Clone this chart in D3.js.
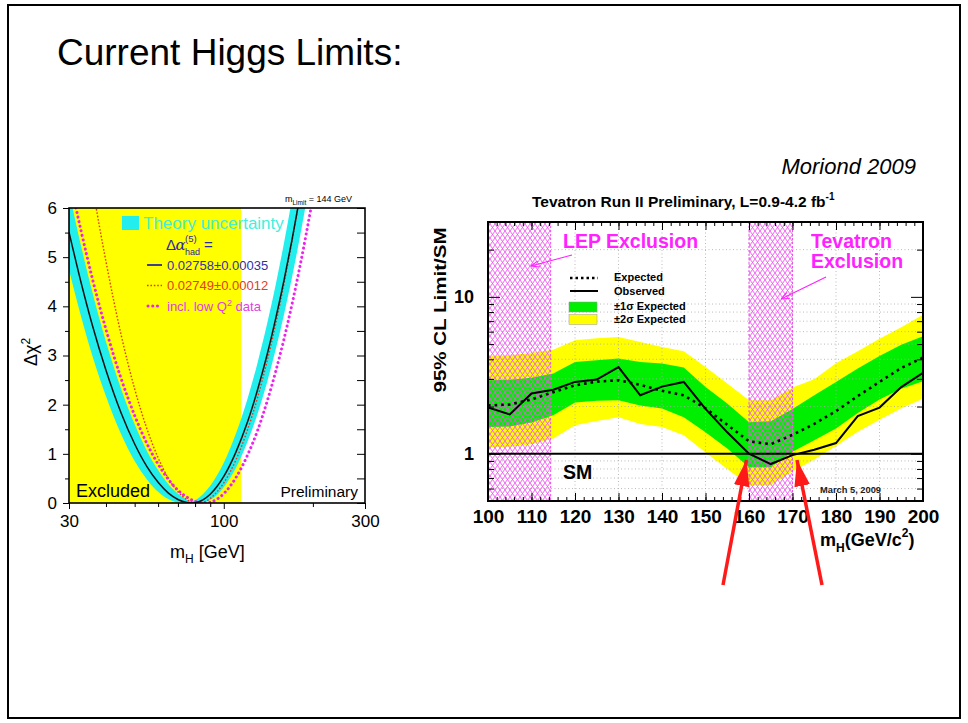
<!DOCTYPE html>
<html>
<head>
<meta charset="utf-8">
<script src="https://cdn.jsdelivr.net/npm/d3@7/dist/d3.min.js"></script>
<style>
  body { margin: 0; background: #fff; }
  svg text { font-family: "Liberation Sans", Arial, Helvetica, sans-serif; }
</style>
</head>
<body>
<div id="vis"></div>
<script>
// left plot: blueband, delta chi2 vs m_H (GeV)
const bandMass    = [30, 33, 36, 40, 45, 50, 55, 60, 65, 70, 75, 78, 80, 85, 90, 95, 100, 110, 120, 130, 140, 150, 160, 170, 180, 190, 200];
const bandCentral = [5.51, 4.47, 3.61, 2.70, 1.83, 1.20, 0.74, 0.42, 0.20, 0.072, 0.010, 0, 0.005, 0.064, 0.178, 0.34, 0.54, 1.04, 1.63, 2.30, 3.01, 3.77, 4.55, 5.35, 6.17, 6.99, 7.82];
const bandLow     = [4.74, 3.78, 2.99, 2.17, 1.40, 0.855, 0.48, 0.23, 0.079, 0.010, 0, 0, 0, 0.0065, 0.063, 0.17, 0.32, 0.72, 1.23, 1.81, 2.45, 3.14, 3.85, 4.59, 5.35, 6.12, 6.90];
const bandHigh    = [6.34, 5.21, 4.28, 3.28, 2.32, 1.60, 1.06, 0.67, 0.38, 0.19, 0.072, 0.03, 0.059, 0.18, 0.35, 0.57, 0.82, 1.42, 2.10, 2.85, 3.64, 4.46, 5.31, 6.18, 7.05, 7.93, 8.81];

const alphaMass = [36, 38, 40, 45, 50, 55, 60, 65, 70, 75, 80, 85, 90, 95, 100, 110, 120, 130, 140, 150, 160, 170, 180];
const alphaChi2 = [6.46, 5.63, 4.91, 3.42, 2.32, 1.51, 0.92, 0.50, 0.23, 0.070, 0.004, 0.016, 0.093, 0.23, 0.41, 0.88, 1.47, 2.14, 2.88, 3.66, 4.48, 5.32, 6.19];

const lowQ2Mass = [30, 33, 36, 40, 45, 50, 55, 60, 65, 70, 75, 80, 86, 90, 95, 100, 110, 120, 130, 140, 150, 160, 170, 180, 190, 200];
const lowQ2Chi2 = [6.66, 5.52, 4.56, 3.53, 2.53, 1.78, 1.21, 0.79, 0.48, 0.26, 0.12, 0.034, 0, 0.015, 0.081, 0.19, 0.52, 0.96, 1.47, 2.06, 2.69, 3.35, 4.04, 4.75, 5.48, 6.21];

const lepLimit = 114.4;
const chiTicks = [0, 1, 2, 3, 4, 5, 6];
const chiHalfTicks = [0.5, 1.5, 2.5, 3.5, 4.5, 5.5];
const chiMassTicks = [30, 100, 300];
const chiMassMinor = [40, 50, 60, 70, 80, 90, 200];

// right plot: Tevatron 95% CL limit / SM
const tevMass  = [100, 105, 110, 115, 120, 125, 130, 135, 140, 145, 150, 155, 160, 165, 170, 175, 180, 185, 190, 195, 200];
const observed = [1.97, 1.78, 2.42, 2.56, 2.87, 2.97, 3.57, 2.36, 2.68, 2.87, 1.93, 1.37, 1.00, 0.86, 0.98, 1.06, 1.17, 1.74, 1.97, 2.66, 3.28];
const expected = [2.03, 2.06, 2.22, 2.47, 2.73, 2.88, 2.94, 2.75, 2.52, 2.36, 1.95, 1.53, 1.20, 1.15, 1.32, 1.55, 1.87, 2.33, 2.87, 3.52, 4.10];
const minus1   = [1.48, 1.49, 1.58, 1.76, 2.12, 2.18, 2.19, 2.03, 1.94, 1.71, 1.37, 1.08, 0.82, 0.82, 1.03, 1.22, 1.45, 1.82, 2.22, 2.60, 2.90];
const plus1    = [2.94, 2.96, 3.05, 3.25, 3.85, 3.95, 4.04, 3.85, 3.76, 3.55, 2.66, 2.09, 1.59, 1.61, 1.93, 2.36, 2.87, 3.50, 4.20, 4.95, 5.60];
const minus2   = [1.10, 1.11, 1.15, 1.25, 1.52, 1.62, 1.71, 1.55, 1.48, 1.31, 1.02, 0.80, 0.63, 0.63, 0.77, 0.92, 1.12, 1.38, 1.65, 1.95, 2.24];
const plus2    = [4.20, 4.25, 4.40, 4.60, 5.29, 5.45, 5.55, 5.15, 4.80, 4.50, 3.57, 2.80, 2.19, 2.19, 2.64, 2.98, 3.77, 4.50, 5.40, 6.40, 7.70];

const lepRange = [100, 114.4];
const tevRange = [160, 170];
const tevXTicks = [100, 110, 120, 130, 140, 150, 160, 170, 180, 190, 200];
const tevXMinor = d3.range(100, 201, 2);
const tevYMajor = [1, 10];
const tevYMinor = [0.6, 0.7, 0.8, 0.9, 2, 3, 4, 5, 6, 7, 8, 9, 20, 30];
const tevGridY  = [0.6, 0.7, 0.8, 0.9, 2, 3, 4, 5, 6, 7, 8, 9, 20];
const tevGridX  = [110, 120, 130, 140, 150, 160, 170, 180, 190];

const FONT = '"Liberation Sans", Arial, sans-serif';

const svg = d3.select('#vis').append('svg')
  .attr('width', 968)
  .attr('height', 723);

const defs = svg.append('defs');

// slide frame + title
svg.append('rect').attr('x', 8).attr('y', 5).attr('width', 952).attr('height', 713)
  .attr('fill', 'none').attr('stroke', '#000').attr('stroke-width', 2);

svg.append('text').attr('x', 57).attr('y', 65)
  .attr('font-size', 37).text('Current Higgs Limits:');

svg.append('text').attr('x', 916).attr('y', 174).attr('text-anchor', 'end')
  .attr('font-size', 22).attr('font-style', 'italic').text('Moriond 2009');

// ================= left plot =================
const xL = d3.scaleLog().domain([30, 300]).range([69, 365]);
const yL = d3.scaleLinear().domain([0, 6]).range([503, 208]);

defs.append('clipPath').attr('id', 'clipL').append('rect')
  .attr('x', 69).attr('y', 208).attr('width', 296).attr('height', 295);

const left = svg.append('g');
const plotL = left.append('g').attr('clip-path', 'url(#clipL)');

plotL.append('rect')
  .attr('x', xL(30)).attr('y', yL(6))
  .attr('width', xL(lepLimit) - xL(30)).attr('height', yL(0) - yL(6))
  .attr('fill', '#ffff00');

const bandRows = bandMass.map((m, i) => ({m: m, c: bandCentral[i], lo: bandLow[i], hi: bandHigh[i]}));

plotL.append('path')
  .datum(bandRows)
  .attr('fill', '#22eeee')
  .attr('d', d3.area().curve(d3.curveMonotoneX)
    .x(d => xL(d.m)).y0(d => yL(d.lo)).y1(d => yL(d.hi)));

const lineL = d3.line().curve(d3.curveMonotoneX).x(d => xL(d[0])).y(d => yL(d[1]));

plotL.append('path')
  .datum(d3.zip(alphaMass, alphaChi2))
  .attr('fill', 'none').attr('stroke', '#e8381c').attr('stroke-width', 1.4)
  .attr('stroke-dasharray', '1.6,1.8')
  .attr('d', lineL);

plotL.append('path')
  .datum(d3.zip(lowQ2Mass, lowQ2Chi2))
  .attr('fill', 'none').attr('stroke', '#ee22ee').attr('stroke-width', 3)
  .attr('stroke-linecap', 'round').attr('stroke-dasharray', '0.1,4.6')
  .attr('d', lineL);

plotL.append('path')
  .datum(d3.zip(bandMass, bandCentral))
  .attr('fill', 'none').attr('stroke', '#111').attr('stroke-width', 1.5)
  .attr('d', lineL);

// frame
left.append('rect').attr('x', 69).attr('y', 208).attr('width', 296).attr('height', 295)
  .attr('fill', 'none').attr('stroke', '#000').attr('stroke-width', 1.6);

// axes
function styleAxis(g, size, weight) {
  g.select('.domain').remove();
  g.selectAll('text').attr('font-family', FONT).attr('font-size', size)
    .attr('font-weight', weight || 'normal').attr('fill', '#000');
  g.selectAll('line').attr('stroke', '#000').attr('stroke-width', 1);
}

left.append('g').attr('transform', 'translate(69,0)')
  .call(d3.axisLeft(yL).tickValues(chiTicks).tickSize(6).tickPadding(6).tickFormat(d3.format('d')))
  .call(g => styleAxis(g, 17));
left.append('g').attr('transform', 'translate(69,0)')
  .call(d3.axisLeft(yL).tickValues(chiHalfTicks).tickSize(4).tickFormat(''))
  .call(g => styleAxis(g, 17));
left.append('g').attr('transform', 'translate(365,0)')
  .call(d3.axisRight(yL).tickValues(chiTicks.concat(chiHalfTicks)).tickSize(-8).tickFormat(''))
  .call(g => styleAxis(g, 17));
left.append('g').attr('transform', 'translate(0,503)')
  .call(d3.axisBottom(xL).tickValues(chiMassTicks).tickSize(6).tickPadding(6).tickFormat(d3.format('d')))
  .call(g => styleAxis(g, 17));
left.append('g').attr('transform', 'translate(0,503)')
  .call(d3.axisBottom(xL).tickValues(chiMassMinor).tickSize(4).tickFormat(''))
  .call(g => styleAxis(g, 17));

// axis titles
const yTitleL = left.append('text').attr('transform', 'translate(37,352) rotate(-90)')
  .attr('text-anchor', 'middle').attr('font-size', 18);
yTitleL.append('tspan').text('Δχ');
yTitleL.append('tspan').attr('font-size', 12).attr('dy', -7).text('2');

const xTitleL = left.append('text').attr('x', 170).attr('y', 558).attr('font-size', 18);
xTitleL.append('tspan').text('m');
xTitleL.append('tspan').attr('font-size', 12).attr('dy', 5).text('H');
xTitleL.append('tspan').attr('dy', -5).text(' [GeV]');

left.append('text').attr('x', 76).attr('y', 497).attr('font-size', 18).text('Excluded');
left.append('text').attr('x', 358).attr('y', 497).attr('text-anchor', 'end')
  .attr('font-size', 15.5).text('Preliminary');

const mlim = left.append('text').attr('x', 285).attr('y', 202).attr('font-size', 9);
mlim.append('tspan').text('m');
mlim.append('tspan').attr('font-size', 6.5).attr('dy', 3).text('Limit');
mlim.append('tspan').attr('dy', -3).text(' = 144 GeV');

// legend
const blue = '#2a2aa0';
left.append('rect').attr('x', 122).attr('y', 216).attr('width', 17).attr('height', 14)
  .attr('fill', '#22eeee');
left.append('text').attr('x', 143).attr('y', 229).attr('font-size', 17)
  .attr('fill', '#44eedd').text('Theory uncertainty');

left.append('text').attr('x', 166).attr('y', 250).attr('font-size', 15).attr('fill', blue)
  .text('Δ');
left.append('text').attr('x', 175.5).attr('y', 250).attr('font-size', 15).attr('fill', blue)
  .attr('font-style', 'italic').style('font-family', '"DejaVu Serif", serif').text('α');
left.append('text').attr('x', 185).attr('y', 241.5).attr('font-size', 9.5).attr('fill', blue)
  .text('(5)');
left.append('text').attr('x', 185).attr('y', 254.5).attr('font-size', 9).attr('fill', blue)
  .text('had');
left.append('text').attr('x', 204).attr('y', 250).attr('font-size', 15).attr('fill', blue)
  .text('=');

left.append('line').attr('x1', 147).attr('x2', 162).attr('y1', 265).attr('y2', 265)
  .attr('stroke', blue).attr('stroke-width', 1.8);
left.append('text').attr('x', 167).attr('y', 269.5).attr('font-size', 13)
  .attr('fill', '#3030a8').text('0.02758±0.00035');

left.append('line').attr('x1', 147).attr('x2', 162).attr('y1', 285.5).attr('y2', 285.5)
  .attr('stroke', '#e8381c').attr('stroke-width', 1.4).attr('stroke-dasharray', '1.6,1.8');
left.append('text').attr('x', 167).attr('y', 290).attr('font-size', 13)
  .attr('fill', '#e0401e').text('0.02749±0.00012');

left.append('line').attr('x1', 148).attr('x2', 162).attr('y1', 306).attr('y2', 306)
  .attr('stroke', '#ee22ee').attr('stroke-width', 3).attr('stroke-linecap', 'round')
  .attr('stroke-dasharray', '0.1,4.6');
const q2 = left.append('text').attr('x', 167).attr('y', 311).attr('font-size', 13).attr('fill', '#e040e0');
q2.append('tspan').text('incl. low Q');
q2.append('tspan').attr('font-size', 9).attr('dy', -5).text('2');
q2.append('tspan').attr('dy', 5).text(' data');

// ================= right plot =================
const xR = d3.scaleLinear().domain([100, 200]).range([488, 923]);
const yR = d3.scaleLog().domain([0.5, 30]).range([501, 222]);

defs.append('clipPath').attr('id', 'clipR').append('rect')
  .attr('x', 488).attr('y', 222).attr('width', 435).attr('height', 279);

const hatch = defs.append('pattern').attr('id', 'hatch')
  .attr('patternUnits', 'userSpaceOnUse').attr('width', 5).attr('height', 7);
hatch.append('path').attr('d', 'M0,0L5,7M5,0L0,7')
  .attr('stroke', '#f050f0').attr('stroke-width', 0.9).attr('fill', 'none');

const right = svg.append('g');
const plotR = right.append('g').attr('clip-path', 'url(#clipR)');

const tevRows = tevMass.map((m, i) => ({
  m: m, obs: observed[i], exp: expected[i],
  lo1: minus1[i], hi1: plus1[i], lo2: minus2[i], hi2: plus2[i]
}));

plotR.append('path').datum(tevRows).attr('fill', '#ffff00')
  .attr('d', d3.area().x(d => xR(d.m)).y0(d => yR(d.lo2)).y1(d => yR(d.hi2)));
plotR.append('path').datum(tevRows).attr('fill', '#00ee00')
  .attr('d', d3.area().x(d => xR(d.m)).y0(d => yR(d.lo1)).y1(d => yR(d.hi1)));

// dotted grid
plotR.selectAll('line.gy').data(tevGridY).enter().append('line').attr('class', 'gy')
  .attr('x1', 488).attr('x2', 923).attr('y1', d => yR(d)).attr('y2', d => yR(d))
  .attr('stroke', '#aaa').attr('stroke-width', 0.8).attr('stroke-dasharray', '1,2.5');
plotR.selectAll('line.gx').data(tevGridX).enter().append('line').attr('class', 'gx')
  .attr('x1', d => xR(d)).attr('x2', d => xR(d)).attr('y1', 222).attr('y2', 501)
  .attr('stroke', '#aaa').attr('stroke-width', 0.8).attr('stroke-dasharray', '1,2.5');

// excluded regions (hatched)
[lepRange, tevRange].forEach(r => {
  plotR.append('rect').attr('x', xR(r[0])).attr('y', 222)
    .attr('width', xR(r[1]) - xR(r[0])).attr('height', 279)
    .attr('fill', 'url(#hatch)');
  r.forEach(v => {
    if (v > 100) {
      plotR.append('line').attr('x1', xR(v)).attr('x2', xR(v)).attr('y1', 222).attr('y2', 501)
        .attr('stroke', '#f050f0').attr('stroke-width', 1).attr('stroke-dasharray', '2,2');
    }
  });
});

const lineR = d3.line().x(d => xR(d[0])).y(d => yR(d[1]));

plotR.append('path').datum(d3.zip(tevMass, expected))
  .attr('fill', 'none').attr('stroke', '#000').attr('stroke-width', 2.6)
  .attr('stroke-dasharray', '2.6,4').attr('d', lineR);
plotR.append('path').datum(d3.zip(tevMass, observed))
  .attr('fill', 'none').attr('stroke', '#000').attr('stroke-width', 2)
  .attr('d', lineR);

// SM line
plotR.append('line').attr('x1', 488).attr('x2', 923).attr('y1', yR(1)).attr('y2', yR(1))
  .attr('stroke', '#000').attr('stroke-width', 2);

right.append('rect').attr('x', 488).attr('y', 222).attr('width', 435).attr('height', 279)
  .attr('fill', 'none').attr('stroke', '#000').attr('stroke-width', 2);

// ticks
right.append('g').attr('transform', 'translate(0,501)')
  .call(d3.axisBottom(xR).tickValues(tevXTicks).tickSize(-8).tickPadding(8.5).tickFormat(d3.format('d')))
  .call(g => styleAxis(g, 19, 'bold'));
right.append('g').attr('transform', 'translate(0,501)')
  .call(d3.axisBottom(xR).tickValues(tevXMinor).tickSize(-4).tickFormat(''))
  .call(g => styleAxis(g, 19));
right.append('g').attr('transform', 'translate(0,222)')
  .call(d3.axisTop(xR).tickValues(tevXTicks).tickSize(-8).tickFormat(''))
  .call(g => styleAxis(g, 19));
right.append('g').attr('transform', 'translate(0,222)')
  .call(d3.axisTop(xR).tickValues(tevXMinor).tickSize(-4).tickFormat(''))
  .call(g => styleAxis(g, 19));
right.append('g').attr('transform', 'translate(488,0)')
  .call(d3.axisLeft(yR).tickValues(tevYMajor).tickSize(-12).tickPadding(14).tickFormat(d3.format('d')))
  .call(g => styleAxis(g, 18, 'bold'));
right.append('g').attr('transform', 'translate(488,0)')
  .call(d3.axisLeft(yR).tickValues(tevYMinor).tickSize(-6).tickFormat(''))
  .call(g => styleAxis(g, 18));
right.append('g').attr('transform', 'translate(923,0)')
  .call(d3.axisRight(yR).tickValues(tevYMajor).tickSize(-12).tickFormat(''))
  .call(g => styleAxis(g, 18));
right.append('g').attr('transform', 'translate(923,0)')
  .call(d3.axisRight(yR).tickValues(tevYMinor).tickSize(-6).tickFormat(''))
  .call(g => styleAxis(g, 18));

// titles
const tTitle = right.append('text').attr('x', 532).attr('y', 207)
  .attr('font-size', 15.5).attr('font-weight', 'bold');
tTitle.append('tspan').text('Tevatron Run II Preliminary, L=0.9-4.2 fb');
tTitle.append('tspan').attr('font-size', 10).attr('dy', -7).text('-1');

right.append('text').attr('transform', 'translate(446,310) rotate(-90)')
  .attr('text-anchor', 'middle').attr('font-size', 17).attr('font-weight', 'bold')
  .attr('textLength', 165).attr('lengthAdjust', 'spacingAndGlyphs')
  .text('95% CL Limit/SM');

const xTitleR = right.append('text').attr('x', 820).attr('y', 546)
  .attr('font-size', 18).attr('font-weight', 'bold');
xTitleR.append('tspan').text('m');
xTitleR.append('tspan').attr('font-size', 12).attr('dy', 6).text('H');
xTitleR.append('tspan').attr('dy', -6).text('(GeV/c');
xTitleR.append('tspan').attr('font-size', 12).attr('dy', -9).text('2');
xTitleR.append('tspan').attr('dy', 9).text(')');

right.append('text').attr('x', 563).attr('y', 479).attr('font-size', 19.5)
  .attr('font-weight', 'bold').text('SM');
right.append('text').attr('x', 820).attr('y', 493).attr('font-size', 9.3)
  .attr('font-weight', 'bold').attr('fill', '#222').text('March 5, 2009');

// legend
right.append('line').attr('x1', 570).attr('x2', 598).attr('y1', 278).attr('y2', 278)
  .attr('stroke', '#000').attr('stroke-width', 2.5).attr('stroke-dasharray', '2.5,3');
right.append('line').attr('x1', 570).attr('x2', 598).attr('y1', 291).attr('y2', 291)
  .attr('stroke', '#000').attr('stroke-width', 2);
right.append('rect').attr('x', 569).attr('y', 302).attr('width', 28).attr('height', 10)
  .attr('fill', '#00ee00').attr('stroke', '#999').attr('stroke-width', 0.5);
right.append('rect').attr('x', 569).attr('y', 314.5).attr('width', 28).attr('height', 10)
  .attr('fill', '#ffff00').attr('stroke', '#999').attr('stroke-width', 0.5);
['Expected', 'Observed', '±1σ Expected', '±2σ Expected'].forEach((t, i) => {
  right.append('text').attr('x', 614).attr('y', [281, 295, 310, 323][i])
    .attr('font-size', 11).attr('font-weight', 'bold').text(t);
});

// exclusion labels
const pink = '#ff22ff';
right.append('text').attr('x', 563).attr('y', 248).attr('font-size', 19.5)
  .attr('font-weight', 'bold').attr('fill', pink).text('LEP Exclusion');
right.append('text').attr('x', 811).attr('y', 248).attr('font-size', 19.5)
  .attr('font-weight', 'bold').attr('fill', pink).text('Tevatron');
right.append('text').attr('x', 811).attr('y', 268).attr('font-size', 19.5)
  .attr('font-weight', 'bold').attr('fill', pink).text('Exclusion');

defs.append('marker').attr('id', 'pinkHead').attr('viewBox', '0 0 10 8')
  .attr('refX', 10).attr('refY', 4).attr('markerWidth', 7).attr('markerHeight', 6)
  .attr('orient', 'auto')
  .append('path').attr('d', 'M0,0L10,4L0,8').attr('fill', 'none')
  .attr('stroke', pink).attr('stroke-width', 1.2);

right.append('line').attr('x1', 572).attr('y1', 255).attr('x2', 531).attr('y2', 266)
  .attr('stroke', pink).attr('stroke-width', 1.2).attr('marker-end', 'url(#pinkHead)');
right.append('line').attr('x1', 826).attr('y1', 277).attr('x2', 781).attr('y2', 299)
  .attr('stroke', pink).attr('stroke-width', 1.2).attr('marker-end', 'url(#pinkHead)');

// red arrows pointing at the crossings
defs.append('marker').attr('id', 'redHead').attr('viewBox', '0 0 10 6')
  .attr('refX', 10).attr('refY', 3).attr('markerWidth', 7.5).attr('markerHeight', 4.5)
  .attr('orient', 'auto')
  .append('path').attr('d', 'M0,0L10,3L0,6Z').attr('fill', '#ff1a1a');

[[723, 585, 746.5, 460], [822, 585, 797, 460]].forEach(a => {
  svg.append('line').attr('x1', a[0]).attr('y1', a[1]).attr('x2', a[2]).attr('y2', a[3])
    .attr('stroke', '#ff1a1a').attr('stroke-width', 3.5).attr('marker-end', 'url(#redHead)');
});
</script>
</body>
</html>
